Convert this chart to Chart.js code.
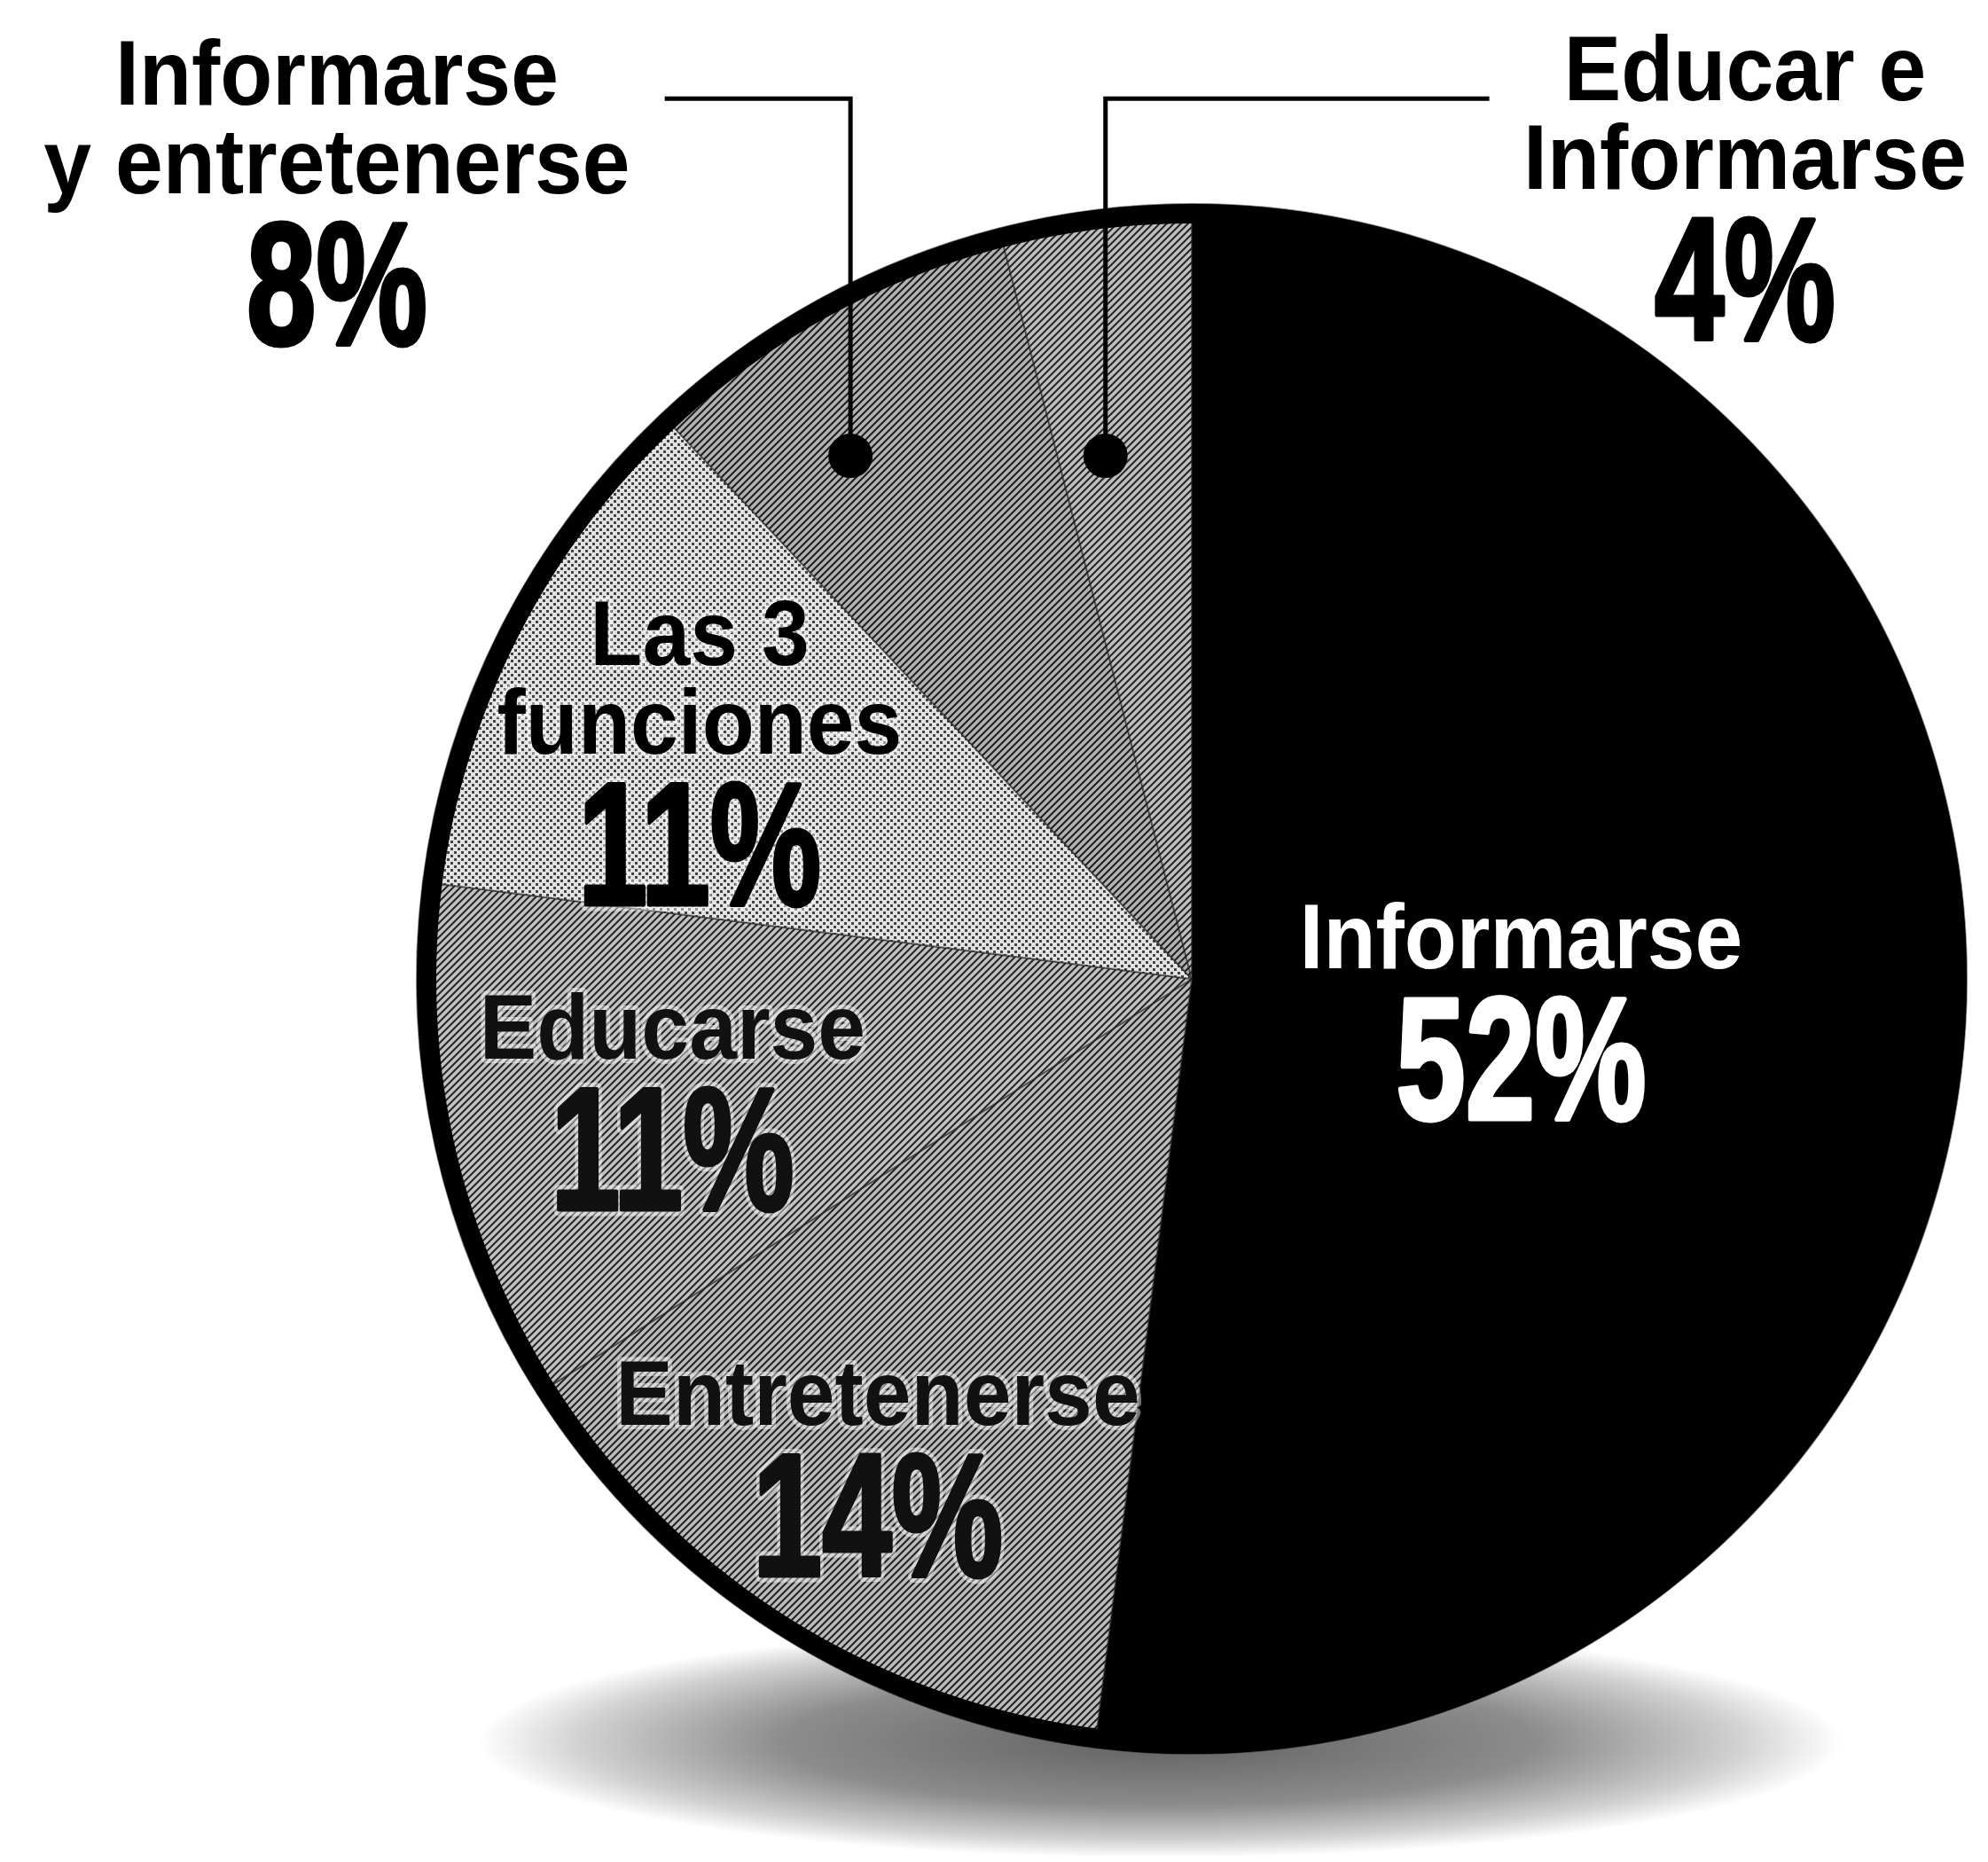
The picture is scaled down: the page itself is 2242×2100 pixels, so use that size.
<!DOCTYPE html>
<html>
<head>
<meta charset="utf-8">
<script src="https://cdn.jsdelivr.net/npm/chart.js@4.4.1/dist/chart.umd.min.js"></script>
<style>
  html, body { margin: 0; padding: 0; background: #fff; }
  #wrap { width: 2242px; height: 2100px; }
</style>
</head>
<body>
<div id="wrap"><canvas id="usoChart" width="2242" height="2100"></canvas></div>
<script>
// ===== FUNCIONES DE LOS MEDIOS (pie) =====
// slices clockwise from 12 o'clock
var categories = ['Informarse', 'Entretenerse', 'Educarse', 'Las 3 funciones', 'Informarse y entretenerse', 'Educar e Informarse'];
var shares = [52, 14, 11, 11, 8, 4];
var labelLines = [['Informarse'], ['Entretenerse'], ['Educarse'], ['Las 3', 'funciones'], ['Informarse', 'y entretenerse'], ['Educar e', 'Informarse']];

// halftone-ish fills: [base, ink, grain]
var sliceTones = [
  ['#000000', '#000000', 'solid'],
  ['#bcbcbc', '#222222', 'diag'],
  ['#c2c2c2', '#262626', 'diag'],
  ['#e2e2e2', '#444444', 'dot'],
  ['#b2b2b2', '#1e1e1e', 'diag'],
  ['#c0c0c0', '#262626', 'diag']
];

// label anchors (percent baseline centre), in radii from the pie centre
var labelAnchor = [[0.425, 0.181], [-0.405, 0.770], [-0.670, 0.298], [-0.635, -0.096], [-1.103, -0.819], [0.714, -0.825]];
var labelInk = ['#ffffff', '#111111', '#111111', '#000000', '#000000', '#000000'];
var labelHalo = [false, true, true, true, false, false];

// leaders for the two thin slices
var calloutSlices = [4, 5];
var calloutAt = 0.35;
var calloutDotY = -0.675;
var calloutElbowY = -1.136;
var calloutEndX = { 4: -0.68, 5: 0.384 };

var FONT = '"Liberation Sans", Arial, Helvetica, sans-serif';

function grain(base, ink, kind) {
  if (kind === 'solid') return base;
  var c = document.createElement('canvas');
  c.width = 8; c.height = 8;
  var g = c.getContext('2d');
  g.fillStyle = base; g.fillRect(0, 0, 8, 8);
  if (kind === 'dot') {
    g.fillStyle = ink;
    g.fillRect(0, 0, 3, 3); g.fillRect(4, 4, 3, 3);
  } else {
    g.strokeStyle = ink; g.lineWidth = 2;
    g.beginPath();
    g.moveTo(-4, 4); g.lineTo(4, -4);
    g.moveTo(0, 8); g.lineTo(8, 0);
    g.moveTo(4, 12); g.lineTo(12, 4);
    g.stroke();
  }
  return g.createPattern(c, 'repeat');
}

// horizontally condensed text; `weight` adds an outline in the fill colour
function squeezeText(ctx, text, x, y, sx, halo, weight) {
  ctx.save();
  ctx.translate(x, y);
  ctx.scale(sx, 1);
  ctx.lineJoin = 'round';
  if (halo) {
    ctx.lineWidth = 10 + (weight || 0);
    ctx.strokeStyle = 'rgba(255,255,255,0.45)';
    ctx.strokeText(text, 0, 0);
  }
  if (weight) {
    ctx.lineWidth = weight;
    ctx.strokeStyle = ctx.fillStyle;
    ctx.strokeText(text, 0, 0);
  }
  ctx.fillText(text, 0, 0);
  ctx.restore();
}

var shadowPlugin = {
  id: 'shadow',
  beforeDatasetsDraw: function(chart) {
    var arc = chart.getDatasetMeta(0).data[0];
    if (!arc) return;
    var r = arc.outerRadius, ctx = chart.ctx;
    var ex = arc.x - 0.041 * r, ey = arc.y + 0.984 * r, rx = 0.88 * r, ry = 0.15 * r;
    ctx.save();
    ctx.translate(ex, ey);
    ctx.scale(1, ry / rx);
    var gr = ctx.createRadialGradient(0, 0, 0, 0, 0, rx);
    gr.addColorStop(0, 'rgba(0,0,0,0.62)');
    gr.addColorStop(0.55, 'rgba(0,0,0,0.45)');
    gr.addColorStop(0.85, 'rgba(0,0,0,0.18)');
    gr.addColorStop(1, 'rgba(0,0,0,0)');
    ctx.fillStyle = gr;
    ctx.beginPath();
    ctx.arc(0, 0, rx, 0, Math.PI * 2);
    ctx.fill();
    ctx.restore();
  }
};

var decorPlugin = {
  id: 'decor',
  afterDatasetsDraw: function(chart) {
    var meta = chart.getDatasetMeta(0);
    var ctx = chart.ctx;
    var a0 = meta.data[0];
    var cx = a0.x, cy = a0.y, r = a0.outerRadius;

    // heavy outer rim
    ctx.save();
    ctx.strokeStyle = '#000';
    ctx.lineWidth = 22;
    ctx.beginPath();
    ctx.arc(cx, cy, r - 11, 0, Math.PI * 2);
    ctx.stroke();
    ctx.restore();

    // leaders: dot in slice, straight up, then across to the label
    calloutSlices.forEach(function(i) {
      var arc = meta.data[i];
      var ang = arc.startAngle + (arc.endAngle - arc.startAngle) * calloutAt;
      var dy = calloutDotY * r;
      var dx = dy / Math.tan(ang);
      var px = cx + dx, py = cy + dy;
      var ey = cy + calloutElbowY * r;
      ctx.save();
      ctx.strokeStyle = '#000';
      ctx.lineWidth = 5;
      ctx.beginPath();
      ctx.moveTo(px, py);
      ctx.lineTo(px, ey);
      ctx.lineTo(cx + calloutEndX[i] * r, ey);
      ctx.stroke();
      ctx.fillStyle = '#000';
      ctx.beginPath();
      ctx.arc(px, py, 25, 0, Math.PI * 2);
      ctx.fill();
      ctx.restore();
    });

    // names + percentages
    ctx.save();
    ctx.textAlign = 'center';
    ctx.textBaseline = 'alphabetic';
    meta.data.forEach(function(arc, i) {
      var ax = cx + labelAnchor[i][0] * r;
      var ay = cy + labelAnchor[i][1] * r;
      var lines = labelLines[i];
      ctx.fillStyle = labelInk[i];
      ctx.font = 'bold 104px ' + FONT;
      lines.forEach(function(t, k) {
        var ly = ay - 170 - (lines.length - 1 - k) * 100;
        squeezeText(ctx, t, ax, ly, 0.93, labelHalo[i], 0);
      });
      ctx.font = 'bold 196px ' + FONT;
      squeezeText(ctx, shares[i] + '%', ax, ay, 0.72, labelHalo[i], 5);
    });
    ctx.restore();
  }
};

var canvas = document.getElementById('usoChart');
var ctx = canvas.getContext('2d');
new Chart(ctx, {
  type: 'pie',
  data: {
    labels: categories,
    datasets: [{
      data: shares,
      backgroundColor: sliceTones.map(function(t) { return grain(t[0], t[1], t[2]); }),
      borderColor: 'rgba(30,30,30,0.55)',
      borderWidth: 2,
      hoverOffset: 0,
      offset: 0
    }]
  },
  options: {
    responsive: false,
    devicePixelRatio: 1,
    animation: false,
    rotation: 0,
    layout: { padding: { top: 229, bottom: 121, left: 469, right: 23 } },
    plugins: { legend: { display: false }, tooltip: { enabled: false } }
  },
  plugins: [shadowPlugin, decorPlugin]
});
</script>
</body>
</html>
